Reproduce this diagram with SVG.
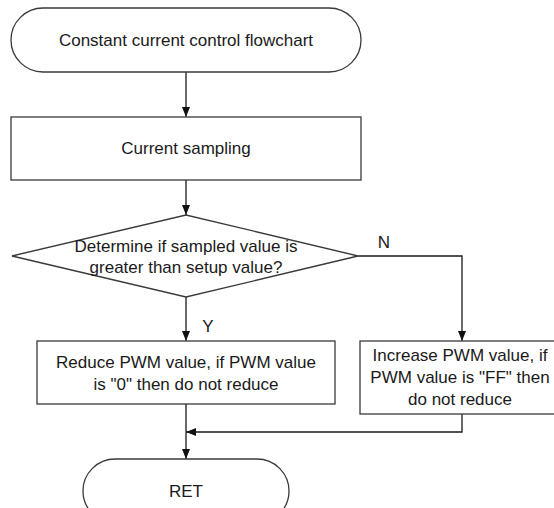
<svg xmlns="http://www.w3.org/2000/svg" width="554" height="508" viewBox="0 0 554 508">
<defs>
<style>
.shape{fill:#ffffff;stroke:#3a3a3a;stroke-width:1.3}
.conn{fill:none;stroke:#1a1a1a;stroke-width:1.3}
.t{font-family:"Liberation Sans",Arial,sans-serif;font-size:17px;fill:#1a1a1a;text-anchor:middle}
</style>
<marker id="arr" viewBox="0 0 10 10" refX="10" refY="5" markerWidth="10" markerHeight="10" markerUnits="userSpaceOnUse" orient="auto">
<path d="M0,1 L10,5 L0,9 Z" fill="#111111"/>
</marker>
</defs>
<rect width="554" height="508" fill="#ffffff"/>
<g id="connectors">
<path class="conn" d="M186,72 V117" marker-end="url(#arr)"/>
<path class="conn" d="M186,180 V215" marker-end="url(#arr)"/>
<path class="conn" d="M186,297 V341" marker-end="url(#arr)"/>
<path class="conn" d="M358,256 H462 V341" marker-end="url(#arr)"/>
<path class="conn" d="M462,414 V432 H186" marker-end="url(#arr)"/>
<path class="conn" d="M186,404 V459" marker-end="url(#arr)"/>
<text class="t" x="384" y="248">N</text>
<text class="t" x="208" y="332">Y</text>
</g>
<g id="start">
<rect class="shape" x="11" y="8" width="350" height="64" rx="32" ry="32"/>
<text class="t" x="186" y="46">Constant current control flowchart</text>
</g>
<g id="sampling">
<rect class="shape" x="11" y="117" width="350" height="63"/>
<text class="t" x="186" y="154">Current sampling</text>
</g>
<g id="decision">
<polygon class="shape" points="12,256 186,215 358,256 186,297"/>
<text class="t" x="186" y="252">Determine if sampled value is</text>
<text class="t" x="186" y="273">greater than setup value?</text>
</g>
<g id="reduce">
<rect class="shape" x="37" y="341" width="298" height="63"/>
<text class="t" x="186" y="368">Reduce PWM value, if PWM value</text>
<text class="t" x="186" y="390">is "0" then do not reduce</text>
</g>
<g id="increase">
<rect class="shape" x="360" y="341" width="205" height="73"/>
<text class="t" x="460" y="361">Increase PWM value, if</text>
<text class="t" x="460" y="383">PWM value is "FF" then</text>
<text class="t" x="460" y="405">do not reduce</text>
</g>
<g id="ret">
<rect class="shape" x="83" y="459" width="206" height="64" rx="32" ry="32"/>
<text class="t" x="186" y="497">RET</text>
</g>
</svg>
